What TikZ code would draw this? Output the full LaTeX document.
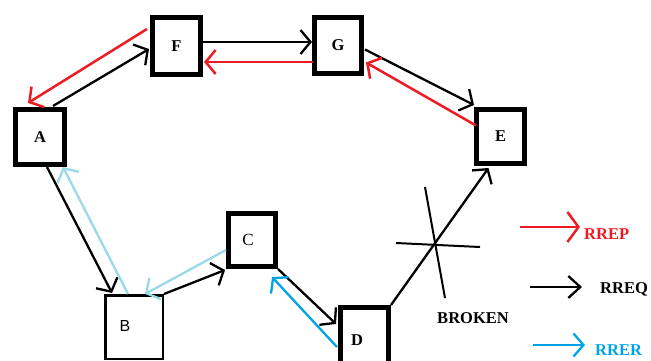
\documentclass[tikz,border=0pt]{standalone}
\usepackage{fontspec}
\setmainfont{Liberation Serif}
\newfontfamily\sansnode{Liberation Sans}
\usetikzlibrary{arrows.meta,calc}
\definecolor{rrepred}{RGB}{237,28,36}
\definecolor{rrerlight}{RGB}{153,217,234}
\definecolor{rrerblue}{RGB}{0,162,232}

\begin{document}
\begin{tikzpicture}[x=1pt,y=-1pt,>={Straight Barb[length=10pt,width=24pt]},
  every node/.style={font=\fontsize{16.5}{19}\selectfont\bfseries},
  box/.style={draw,line width=5pt,inner sep=0pt},
  thinbox/.style={draw,line width=2.5pt,inner sep=0pt},
  req/.style={->,line width=2.3pt,black},
  rep/.style={->,line width=2.5pt,rrepred},
  rer/.style={->,line width=2.3pt,rrerlight},
  tag/.style={inner sep=0pt,anchor=west,font=\fontsize{16.5}{20}\selectfont\bfseries}]

% page frame
\clip (0,0) rectangle (651,361);

% route nodes
\node[box,minimum width=49pt,minimum height=55pt] (A) at (40,137) {A};
\node[box,minimum width=48pt,minimum height=57pt] (F) at (176.5,46) {F};
\node[box,minimum width=47pt,minimum height=56pt] (G) at (338,45.5) {G};
\node[box,minimum width=48pt,minimum height=54pt] (E) at (500.5,136.5) {E};
\node[box,minimum width=47pt,minimum height=53pt] (C) at (252,240) {};
\node[font=\fontsize{17}{19}\selectfont] (Clbl) at (248,240) {C};
\node[thinbox,minimum width=57.5pt,minimum height=63.5pt] (B) at (134,327) {};
\node[font=\sansnode\fontsize{16}{19}\selectfont] (Blbl) at (125,326) {B};
\node[box,minimum width=48pt,minimum height=65pt] (D) at (364.5,340) {};
\node (Dlbl) at (357,340) {D};

% route request
\draw[req] ($(A.north)+(13,-1)$) -- ($(F.west)+(-1,3)$);
\draw[req] ($(F.east)+(0,-4)$) -- ($(G.west)+(0,-3.5)$);
\draw[req] ($(G.east)+(1,4)$) -- ($(E.north west)+(0,-2)$);
\draw[req] ($(A.south)+(7,0)$) -- ($(B.north)+(-22,-1)$);
\draw[req] (B.north east) -- ($(C.south west)+(-1,1)$);
\draw[req] (C.south east) -- ($(D.north west)+(-2,19)$);
\draw[req] (D.north east) -- ($(E.south)+(-12,2)$);

% route reply back to source
\draw[rep] ($(F.west)+(-3,-17)$) -- ($(A.north)+(-12,-4)$);
\draw[rep] ($(G.west)+(1,16.5)$) -- ($(F.east)+(1,16)$);
\draw[rep] ($(E.west)+(2,-11)$) -- ($(G.east)+(2,17)$);

% route error
\draw[rer] ($(B.north)+(-6,0)$) -- ($(A.south east)+(-4,0)$);
\draw[rer] ($(C.west)+(0,10)$) -- ($(B.north)+(11,0)$);
\draw[rer,rrerblue] ($(D.north west)+(-1,42)$) -- ($(C.south east)+(-6,8)$);

% broken link D--E
\coordinate (cut) at (435,245);
\draw[line width=2pt] ($(cut)+(-10,-58)$) -- ($(cut)+(10,53)$);
\draw[line width=2pt] ($(cut)+(-39,-2)$) -- ($(cut)+(45,2)$);
\node[font=\fontsize{16.5}{20}\selectfont\bfseries] (brk) at (473,318) {BROKEN};

% legend
\node[tag,text=rrepred] (rrep) at (584,234) {RREP};
\node[tag] (rreq) at (600,289) {RREQ};
\node[tag,text=rrerblue] (rrer) at (595,350) {RRER};
\coordinate (rrep-s) at (520,227);
\coordinate (rreq-s) at (530,287);
\coordinate (rrer-s) at (533,345);
\draw[rep,-{Straight Barb[length=11pt,width=30pt]}] (rrep-s) -- ($(rrep.west)+(-4,-7)$);
\draw[req,-{Straight Barb[length=12pt,width=22pt]}] (rreq-s) -- ($(rreq.west)+(-18,-2)$);
\draw[rer,rrerblue,-{Straight Barb[length=10pt,width=23pt]}] (rrer-s) -- ($(rrer.west)+(-10,-5)$);

\end{tikzpicture}
\end{document}
